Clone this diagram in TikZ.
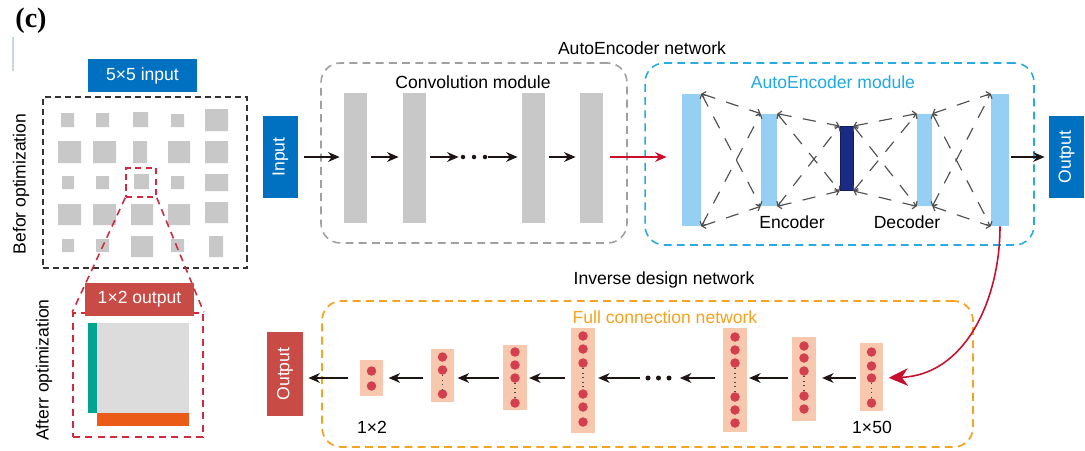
\documentclass[tikz,border=0pt]{standalone}
\usepackage{fontspec}
\setmainfont{Liberation Sans}
\newfontfamily\tagfont{Liberation Serif}
\usetikzlibrary{positioning, arrows.meta}
\definecolor{inblue}{HTML}{0070C0}
\definecolor{outred}{HTML}{C84B46}
\definecolor{zoomred}{HTML}{D02A3C}
\definecolor{cellc}{HTML}{C8C8C8}
\definecolor{panelc}{HTML}{DCDCDC}
\definecolor{tealc}{HTML}{00A491}
\definecolor{barorange}{HTML}{EB5B17}
\definecolor{convline}{HTML}{A0A0A0}
\definecolor{aeline}{HTML}{29ABE2}
\definecolor{aetext}{HTML}{1EA9E4}
\definecolor{aelight}{HTML}{95CFF1}
\definecolor{aedark}{HTML}{1B2A85}
\definecolor{fcline}{HTML}{F5A323}
\definecolor{fctext}{HTML}{F7A21C}
\definecolor{layerc}{HTML}{F8C8AE}
\definecolor{dotred}{HTML}{D43F4F}
\definecolor{arrowc}{HTML}{1E1414}
\definecolor{redarrow}{HTML}{C8102E}
\definecolor{linkc}{HTML}{505050}
\definecolor{tagline}{HTML}{C8D7E6}

\begin{document}
\begin{tikzpicture}[x=0.02cm, y=-0.02cm,
  tag/.style={font=\tagfont\bfseries\fontsize{16}{16}\selectfont, inner sep=0pt},
  head/.style={font=\fontsize{10}{12}\selectfont, inner sep=1pt},
  tagbox/.style={fill=#1, text=white, minimum width=2.18cm, minimum height=0.66cm, inner sep=0pt},
  sidebox/.style={fill=#1, text=white, minimum width=0.7cm, minimum height=1.64cm, inner sep=0pt},
  module/.style={draw=#1, rounded corners=11pt, line width=0.9pt, dash pattern=on 4.5pt off 3pt},
  convbar/.style={fill=cellc, minimum width=0.46cm, minimum height=2.6cm, inner sep=0pt},
  aebar/.style={fill=aelight, inner sep=0pt},
  layer/.style={fill=layerc, minimum width=0.47cm, inner sep=0pt},
  flow/.style={-{Stealth[length=6.5pt, width=5.5pt, inset=2pt]}, line width=1.1pt, draw=arrowc, shorten <=0.08cm, shorten >=0.08cm},
  link/.style={draw=linkc, line width=0.65pt, dash pattern=on 7.5pt off 6.5pt, {Straight Barb[length=1.8pt, width=4pt]}-{Straight Barb[length=1.8pt, width=4pt]}},
  cell/.style={fill=cellc},
  reddot/.style={fill=dotred},
  vdots/.style={draw=black!70, line width=0.6pt, dotted}
]
\useasboundingbox (0,0) rectangle (1085,450);

% left panel: before / after
\node[tag] (tag) at (31,21) {(c)};
\draw[tagline, line width=0.6pt] (13,37) -- (13,71);

\node[draw=black!80, line width=0.85pt, dash pattern=on 3.5pt off 2.2pt, minimum width=4.08cm, minimum height=3.42cm] (gridbox) at (145,182.5) {};
\fill[cell] (61,113) rectangle (74,127) (96,113) rectangle (109,127) (133,112) rectangle (148,127) (171,114) rectangle (184,127) (205,109) rectangle (228,131);
\fill[cell] (58,141) rectangle (81,163) (93,141) rectangle (116,163) (133,141) rectangle (147,163) (168,141) rectangle (190,163) (205,141) rectangle (228,163);
\fill[cell] (62,176) rectangle (74,189) (96,176) rectangle (109,189) (134,174) rectangle (149,189) (171,176) rectangle (184,189) (205,174) rectangle (228,191);
\fill[cell] (58,204) rectangle (81,225) (93,204) rectangle (116,225) (131,204) rectangle (153,225) (168,204) rectangle (190,225) (205,202) rectangle (228,223);
\fill[cell] (62,239) rectangle (74,252) (96,239) rectangle (109,252) (131,236) rectangle (153,257) (171,239) rectangle (184,252) (209,236) rectangle (223,257);
\node[tagbox=inblue] (inlbl) at (142.5,75.5) {5×5 input};

\node[draw=zoomred, line width=0.9pt, dash pattern=on 3.5pt off 2.5pt, minimum width=0.6cm, minimum height=0.58cm] (zoomsrc) at (141,182.5) {};
\node[draw=zoomred, line width=0.9pt, dash pattern=on 4pt off 3pt, minimum width=2.6cm, minimum height=2.48cm] (zoombox) at (138,375) {};
\draw[zoomred, line width=0.9pt, dash pattern=on 4pt off 3pt] (zoomsrc.south west) -- (zoombox.north west);
\draw[zoomred, line width=0.9pt, dash pattern=on 4pt off 3pt] (zoomsrc.south east) -- (zoombox.north east);
\node[tagbox=outred] (outlbl) at (139.5,299.5) {1×2 output};
\fill[panelc] (88,323) rectangle (189,413);
\fill[tealc] (88,323) rectangle (97,413);
\fill[barorange] (97,413) rectangle (189,426);

\node[head, rotate=90] (before) at (21,184) {Befor optimization};
\node[head, rotate=90] (after) at (44,370) {Afterr optimization};

% AutoEncoder network
\node[head] (nettitle) at (642,48) {AutoEncoder network};
\node[sidebox=inblue] (inp) at (280.5,157) {\rotatebox{90}{Input}};

\node[module=convline, minimum width=6.12cm, minimum height=3.6cm] (convbox) at (474,153) {};
\node[head] (convtitle) at (473,82) {Convolution module};
\node[convbar] (cb1) at (355.5,158) {};
\node[convbar] (cb2) at (414.5,158) {};
\node[convbar] (cb3) at (533.5,158) {};
\node[convbar] (cb4) at (591.5,158) {};
\node[minimum width=0.52cm, inner sep=0pt] (cdots) at (474,157) {};
\foreach \x in {463,474,485} \fill[arrowc] (\x,157) circle[radius=0.045cm];

\draw[flow, shorten <=0.12cm] (inp.east) -- (cb1.west |- inp.east);
\draw[flow] (cb1.east |- inp.east) -- (cb2.west |- inp.east);
\draw[flow, shorten >=0.04cm] (cb2.east |- cdots) -- (cdots.west);
\draw[flow, shorten <=0.02cm] (cdots.east) -- (cb3.west |- cdots);
\draw[flow] (cb3.east |- cdots) -- (cb4.west |- cdots);

\node[module=aeline, minimum width=7.78cm, minimum height=3.64cm] (aebox) at (839.5,154) {};
\node[head, text=aetext] (aetitle) at (833,82) {AutoEncoder module};
\node[aebar, minimum width=0.38cm, minimum height=2.64cm] (ae1) at (691.5,160) {};
\node[aebar, minimum width=0.32cm, minimum height=1.84cm] (ae2) at (769,160) {};
\node[fill=aedark, draw=aedark!70!black, line width=0.5pt, inner sep=0pt, minimum width=0.26cm, minimum height=1.28cm] (ae3) at (846.5,158.5) {};
\node[aebar, minimum width=0.3cm, minimum height=1.84cm] (ae4) at (924.5,160) {};
\node[aebar, minimum width=0.36cm, minimum height=2.64cm] (ae5) at (1000,160) {};
\foreach \a/\b in {ae1/ae2, ae2/ae3, ae3/ae4, ae4/ae5} {
  \draw[link] (\a.north east) -- (\b.north west);
  \draw[link] (\a.north east) -- (\b.south west);
  \draw[link] (\a.south east) -- (\b.north west);
  \draw[link] (\a.south east) -- (\b.south west);
}
\node[head] (enc) at (792,222) {Encoder};
\node[head] (dec) at (907,222) {Decoder};

\draw[flow, draw=redarrow, -{Stealth[length=6.5pt, width=5.5pt, inset=2pt]}, shorten <=0.14cm, shorten >=0.3cm] (cb4.east |- cdots) -- (ae1.west |- cdots);

\node[sidebox=inblue, minimum width=0.7cm] (aeout) at (1066.5,157) {\rotatebox{90}{Output}};
\draw[flow, shorten <=0.04cm] (ae5.east |- aeout) -- (aeout.west);

% Inverse design network
\node[head] (invtitle) at (664,280) {Inverse design network};
\node[module=fcline, line width=1pt, minimum width=13.02cm, minimum height=2.92cm] (fcbox) at (647.5,374) {};
\node[head, text=fctext] (fctitle) at (665,317) {Full connection network};

\node[sidebox=outred, minimum width=0.72cm, minimum height=1.68cm] (fcout) at (285,374) {\rotatebox{90}{Output}};
\node[layer, minimum height=0.72cm] (l1) at (371.5,378) {};
\node[layer, minimum height=1.06cm] (l2) at (442.5,375.5) {};
\node[layer, minimum height=1.3cm] (l3) at (515,377.5) {};
\node[layer, minimum height=2.1cm] (l4) at (583,380.5) {};
\node[layer, minimum height=2.08cm] (l5) at (735,380) {};
\node[layer, minimum height=1.68cm] (l6) at (804,379) {};
\node[layer, minimum height=1.36cm] (l7) at (871.5,377) {};
\node[minimum width=0.52cm, inner sep=0pt] (fcdots) at (658.5,378) {};

\foreach \y in {371,386} \fill[reddot] (371.5,\y) circle[radius=0.095cm];
\foreach \y in {357,370,394} \fill[reddot] (442.5,\y) circle[radius=0.095cm];
\foreach \y in {352,365,378,403} \fill[reddot] (515,\y) circle[radius=0.095cm];
\foreach \y in {336,349,363,394,407,422} \fill[reddot] (583,\y) circle[radius=0.095cm];
\foreach \y in {337,350,363,397,410,423} \fill[reddot] (735,\y) circle[radius=0.095cm];
\foreach \y in {346,358,371,396,409} \fill[reddot] (804,\y) circle[radius=0.095cm];
\foreach \y in {352,366,378,403} \fill[reddot] (871.5,\y) circle[radius=0.095cm];
\draw[vdots] (442.5,375) -- (442.5,389);
\draw[vdots] (515,383) -- (515,398);
\draw[vdots] (583,368) -- (583,389);
\draw[vdots] (735,368) -- (735,392);
\draw[vdots] (804,376) -- (804,391);
\draw[vdots] (871.5,383) -- (871.5,398);
\foreach \x in {648,658.5,669} \fill[arrowc] (\x,378) circle[radius=0.05cm];

\draw[flow, shorten <=0.06cm, shorten >=0.12cm] (l7.west |- fcdots) -- (l6.east |- fcdots);
\draw[flow, shorten >=0.04cm] (l6.west |- fcdots) -- (l5.east |- fcdots);
\draw[flow, shorten <=0.16cm, shorten >=0.16cm] (l5.west |- fcdots) -- (fcdots.east);
\draw[flow, shorten <=0.1cm, shorten >=0.06cm] (fcdots.west) -- (l4.east |- fcdots);
\draw[flow, shorten <=0.12cm, shorten >=0.04cm] (l4.west |- fcdots) -- (l3.east |- fcdots);
\draw[flow, shorten >=0.06cm] (l3.west |- fcdots) -- (l2.east |- fcdots);
\draw[flow, shorten <=0.14cm, shorten >=0.1cm] (l2.west |- fcdots) -- (l1.east |- fcdots);
\draw[flow, shorten <=0.22cm, shorten >=0.1cm] (l1.west |- fcdots) -- (fcout.east |- fcdots);

\node[head] (size1) at (372,427) {1×2};
\node[head] (size50) at (872,427) {1×50};

\draw[redarrow, line width=0.9pt, -{Stealth[length=11pt, width=10pt, inset=3.5pt]}, shorten >=0.1cm] (ae5.south) .. controls (1000,300) and (965,375) .. (l7.east |- fcdots);
\end{tikzpicture}
\end{document}
